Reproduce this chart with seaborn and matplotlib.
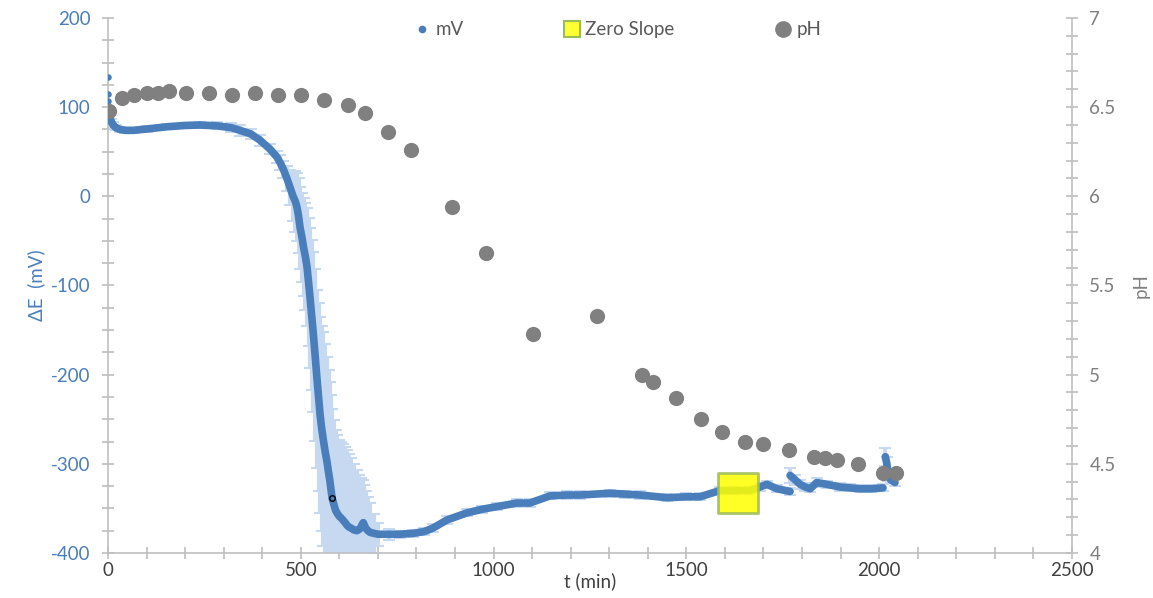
import numpy as np
import pandas as pd
import matplotlib
matplotlib.use('Agg')
import matplotlib.pyplot as plt
from matplotlib.lines import Line2D
from matplotlib.ticker import MultipleLocator
import seaborn as sns

# mV curve (seg = unbroken piece of the curve)
mv_t = [0, 3, 8, 13, 20, 31, 45, 65, 100, 153, 200, 239, 283, 320, 342, 370, 394, 420, 438,
        446, 455, 464, 472, 480, 486, 490, 494, 498, 503, 507, 512, 516, 520, 524, 528, 532,
        537, 542, 546, 550, 554, 558, 563, 568, 572, 575, 578, 581, 586, 590, 595, 600, 605,
        609, 615, 620, 625, 630, 637, 645, 650, 655, 659, 662, 665, 668, 674, 680, 690, 700,
        730, 757, 791, 820, 843, 879, 931, 970, 1009, 1060, 1094, 1146, 1190, 1224, 1302,
        1340, 1380, 1450, 1500, 1535, 1587, 1621, 1665, 1691, 1709, 1735, 1769,
        1769, 1782, 1795, 1808, 1821, 1838, 1864, 1898, 1925, 1950, 1980, 2010,
        2016, 2020, 2023, 2030, 2041]
mv = [97, 90, 84, 80, 77, 75, 74, 74, 75.5, 78, 79.5, 80, 79, 77, 74, 70, 63, 53, 44,
      38, 30, 20, 10, 0, -6, -12, -22, -35, -46, -57, -68, -79, -96, -114, -133, -152,
      -178, -205, -225, -245, -260, -272, -286, -298, -310, -318, -328, -338, -346, -352,
      -356, -359, -361, -363, -366, -369, -371, -372, -374, -375, -374, -372, -368, -366,
      -369, -372, -375, -377, -378, -379,
      -379, -379, -378, -376, -372, -363, -355, -351, -348, -344, -344, -336, -335, -335,
      -333, -334, -335, -338, -337, -337, -330, -330, -330, -326, -323, -328, -331,
      -313, -318, -323, -326, -328, -321, -323, -326, -327, -328, -328, -327,
      -292, -300, -313, -318, -321]
mv_err = [3, 3, 3, 3, 3, 3, 3, 3, 3, 3, 3, 3, 4, 5, 6, 6, 6, 6, 7,
          8, 10, 14, 20, 28, 34, 38, 42, 46, 50, 55, 60, 66, 72, 78, 84, 90,
          96, 100, 105, 110, 115, 120, 120, 118, 115, 110, 105, 100, 95, 90, 88, 86, 85,
          85, 85, 85, 82, 78, 74, 68, 62, 56, 50, 48, 45, 42, 38, 33, 22, 13,
          6, 4, 4, 4, 4, 4, 4, 4, 4, 4, 4, 4, 4, 4, 4, 4, 4, 4, 4, 4, 4, 4, 4, 4, 4, 4, 4,
          8, 6, 5, 4, 4, 5, 4, 4, 4, 4, 4, 4,
          10, 8, 6, 4, 4]
mv_seg = [0] * 97 + [1] * 12 + [2] * 5

# isolated first readings at t = 0
start_t = [0, 0, 0]
start_mv = [134, 115, 107]

# point marked with a black ring
ring_t = [581]
ring_mv = [-338]

# zero slope marker
zero_t = [1635]
zero_mv = [-333]

# pH points
ph_t = [3, 36, 68, 101, 130, 158, 202, 262, 322, 381, 441, 500, 560, 622, 666, 726, 786,
        892, 980, 1102, 1268, 1385, 1413, 1473, 1538, 1592, 1652, 1699, 1766, 1831, 1859,
        1890, 1945, 2010, 2043]
ph = [6.48, 6.55, 6.57, 6.58, 6.58, 6.59, 6.58, 6.58, 6.57, 6.58, 6.57, 6.57, 6.54, 6.51,
      6.47, 6.36, 6.26, 5.94, 5.68, 5.23, 5.33, 5.0, 4.96, 4.87, 4.75, 4.68, 4.62, 4.61,
      4.58, 4.54, 4.53, 4.52, 4.50, 4.45, 4.45]

df_mv = pd.DataFrame({'t': mv_t, 'mv': mv, 'err': mv_err, 'seg': mv_seg})
df_ph = pd.DataFrame({'t': ph_t, 'ph': ph})

azul = '#4a7ebb'
azul_claro = '#c6d9f1'
cinza = '#7f7f7f'
eixo = '#bfbfbf'

sns.set_theme(style='white')
plt.rcParams['font.family'] = ['Lato', 'DejaVu Sans']
plt.rcParams['axes.unicode_minus'] = False
fs = 13.5

fig, ax = plt.subplots(figsize=(11.53, 5.98), dpi=100)
fig.subplots_adjust(left=0.0937, right=0.9297, bottom=0.0753, top=0.9699)

# barras de erro
ax.errorbar(df_mv['t'], df_mv['mv'], yerr=df_mv['err'], fmt='none', ecolor=azul_claro,
            elinewidth=3, capsize=4, capthick=1.5, zorder=1)

# curva mV
sns.lineplot(data=df_mv, x='t', y='mv', units='seg', estimator=None, sort=False,
             color=azul, lw=5.5, ax=ax, zorder=3, legend=False)
sns.scatterplot(x=start_t, y=start_mv, color=azul, s=22, linewidth=0, ax=ax, zorder=3)
ax.plot(ring_t, ring_mv, 'o', ms=4, mfc=azul, mec='black', mew=1, zorder=4)

# zero slope
sns.scatterplot(x=zero_t, y=zero_mv, marker='s', s=860, color='#ffff00', edgecolor='#9bbb59',
                linewidth=2, alpha=0.85, ax=ax, zorder=5)

ax.set_xlim(0, 2500)
ax.set_ylim(-400, 200)
ax.xaxis.set_major_locator(MultipleLocator(500))
ax.xaxis.set_minor_locator(MultipleLocator(100))
ax.yaxis.set_major_locator(MultipleLocator(100))
ax.yaxis.set_minor_locator(MultipleLocator(25))

# pH
ax2 = ax.twinx()
sns.scatterplot(data=df_ph, x='t', y='ph', color='#808080', s=120, linewidth=0, ax=ax2, zorder=6)
ax2.set_ylim(4, 7)
ax2.yaxis.set_major_locator(MultipleLocator(0.5))
ax2.yaxis.set_minor_locator(MultipleLocator(0.1))
ax2.yaxis.set_major_formatter(plt.FuncFormatter(lambda v, p: f'{v:g}'))

for a in (ax, ax2):
    for s in a.spines.values():
        s.set_visible(False)
    a.grid(False)
ax.spines['left'].set_visible(True)
ax.spines['bottom'].set_visible(True)
ax2.spines['right'].set_visible(True)
for s in (ax.spines['left'], ax.spines['bottom'], ax2.spines['right']):
    s.set_color(eixo)
    s.set_linewidth(1.2)

ax.tick_params(axis='both', which='both', direction='inout', length=9, width=1.2, color=eixo)
ax.tick_params(axis='x', which='both', bottom=True, labelsize=fs, labelcolor='#404040', pad=2)
ax.tick_params(axis='y', which='both', left=True, labelsize=fs, labelcolor=azul, pad=8)
ax2.tick_params(axis='y', which='both', right=True, direction='inout', length=9, width=1.2,
                color=eixo, labelsize=fs, labelcolor=cinza, pad=8)

ax.set_xlabel('t (min)', fontsize=fs, color='#404040', labelpad=-5)
ax.set_ylabel('ΔE  (mV)', fontsize=fs, color=azul, labelpad=4)
ax2.set_ylabel('pH', fontsize=fs, color=cinza, labelpad=12)

handles = [
    Line2D([], [], marker='o', ls='', color=azul, ms=4.5),
    Line2D([], [], marker='s', ls='', mfc='#ffff33', mec='#9bbb59', mew=1.5, ms=11),
    Line2D([], [], marker='o', ls='', color='#808080', ms=11),
]
leg = ax2.legend(handles, ['mV', 'Zero Slope', 'pH'], loc='center',
                 bbox_to_anchor=(0.527, 0.978), ncol=3, frameon=False, fontsize=fs,
                 columnspacing=5.2, handletextpad=0.1, handlelength=1.2)
for txt in leg.get_texts():
    txt.set_color('#595959')

plt.savefig('out.png', dpi=100)
